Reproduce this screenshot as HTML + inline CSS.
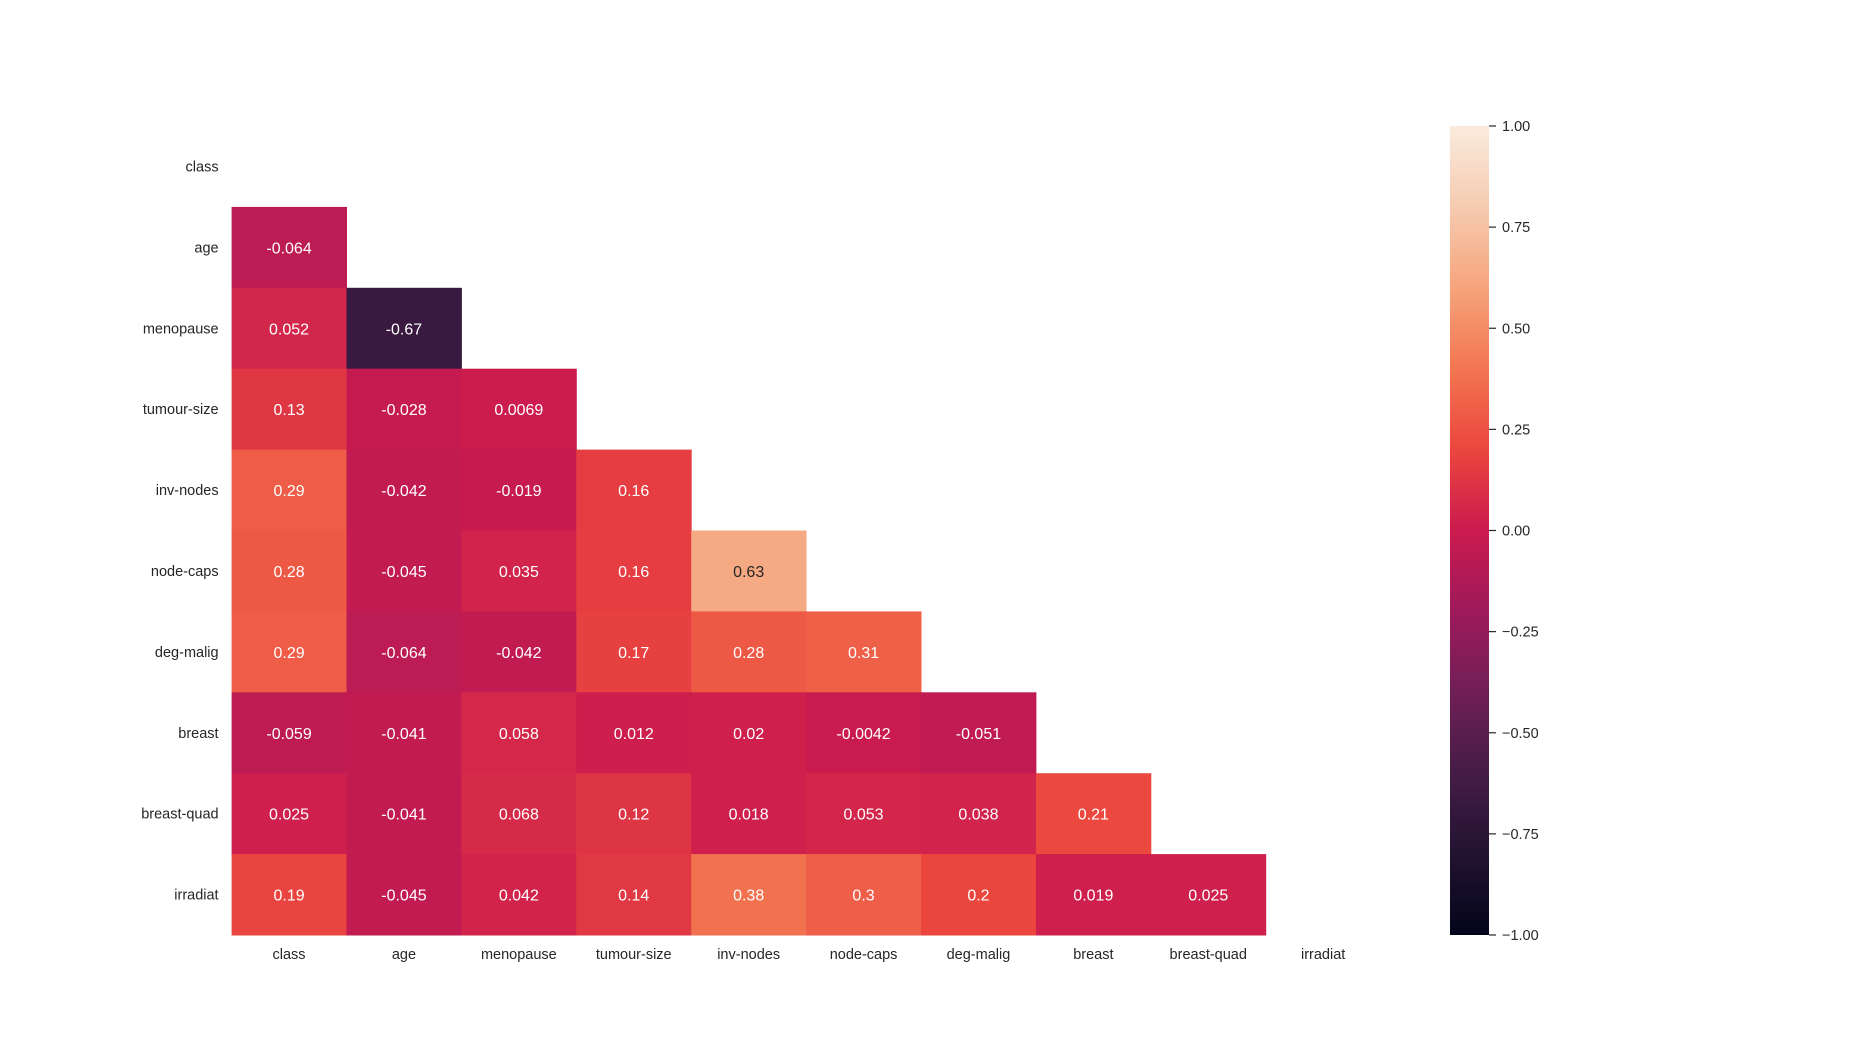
<!DOCTYPE html>
<html><head><meta charset="utf-8">
<style>
body{margin:0;background:#fff;}
svg text{font-family:"Liberation Sans",sans-serif;}
</style></head>
<body>
<svg id="chart" width="1850" height="1050" xmlns="http://www.w3.org/2000/svg">
<defs>
<linearGradient id="cbgrad" x1="0" y1="1" x2="0" y2="0">
<stop offset="0" stop-color="#03051A"/><stop offset="0.1" stop-color="#221331"/><stop offset="0.2" stop-color="#451C47"/><stop offset="0.3" stop-color="#701F57"/><stop offset="0.4" stop-color="#9E1A5B"/><stop offset="0.5" stop-color="#CB1B4F"/><stop offset="0.6" stop-color="#EB463E"/><stop offset="0.7" stop-color="#F37651"/><stop offset="0.8" stop-color="#F6A47C"/><stop offset="0.9" stop-color="#F6CBB0"/><stop offset="1" stop-color="#FAEBDD"/>
</linearGradient>
</defs>
<g id="cells"></g><g id="labels"></g>
<rect x="1450" y="126" width="39" height="809" fill="url(#cbgrad)"/>
<g id="cbticks"></g>
</svg>
<script>
const categories=["class","age","menopause","tumour-size","inv-nodes","node-caps","deg-malig","breast","breast-quad","irradiat"];
const row1=[-0.064];
const row2=[0.052,-0.67];
const row3=[0.13,-0.028,0.0069];
const row4=[0.29,-0.042,-0.019,0.16];
const row5=[0.28,-0.045,0.035,0.16,0.63];
const row6=[0.29,-0.064,-0.042,0.17,0.28,0.31];
const row7=[-0.059,-0.041,0.058,0.012,0.02,-0.0042,-0.051];
const row8=[0.025,-0.041,0.068,0.12,0.018,0.053,0.038,0.21];
const row9=[0.19,-0.045,0.042,0.14,0.38,0.3,0.2,0.019,0.025];
const rows=[[],row1,row2,row3,row4,row5,row6,row7,row8,row9];
const cbTicks=[1,0.75,0.5,0.25,0,-0.25,-0.5,-0.75,-1];
const cbLabels=["1.00","0.75","0.50","0.25","0.00","\u22120.25","\u22120.50","\u22120.75","\u22121.00"];

const L=231.6,T=126,W=1149,H=809,n=categories.length,cw=W/n,ch=H/n;
const xs=i=>L+i*cw, ys=i=>T+i*ch;
const cbY=v=>126+(1-v)/2*809;
const stops=["#03051A","#221331","#451C47","#701F57","#9E1A5B","#CB1B4F","#EB463E","#F37651","#F6A47C","#F6CBB0","#FAEBDD"];
function hex(h){return [1,3,5].map(k=>parseInt(h.substr(k,2),16));}
function cmap(v){let t=(v+1)/2*10;let i=Math.min(9,Math.floor(t));let f=t-i;let a=hex(stops[i]),b=hex(stops[i+1]);
 return a.map((x,k)=>Math.round(x+(b[k]-x)*f));}
const NS="http://www.w3.org/2000/svg";
const gC=document.getElementById('cells'),gL=document.getElementById('labels'),gT=document.getElementById('cbticks');
function mk(tag,attrs,parent){const e=document.createElementNS(NS,tag);for(const k in attrs)e.setAttribute(k,attrs[k]);parent.appendChild(e);return e;}
rows.forEach((r,ri)=>{r.forEach((v,ci)=>{
 const c=cmap(v);
 const rect=mk('rect',{x:xs(ci),y:ys(ri),width:cw+0.5,height:ch+0.5,fill:`rgb(${c})`},gC);
 
 
 const t=mk('text',{x:xs(ci)+cw/2,y:ys(ri)+ch/2+6,'text-anchor':'middle','font-size':'16',fill:v>0.5?'#262626':'#fff'},gC);
 t.textContent=String(v);
 
 
});});
categories.forEach((c,i)=>{
 const t=mk('text',{x:L-13,y:ys(i)+ch/2+5,'text-anchor':'end','font-size':'14.5',fill:'#262626'},gL);
 t.textContent=c;
 
 
 const u=mk('text',{x:xs(i)+cw/2,y:T+H+24,'text-anchor':'middle','font-size':'14.5',fill:'#262626'},gL);
 u.textContent=c;
 
 
});
cbTicks.forEach((v,i)=>{
 const y=cbY(v);
 const l=mk('line',{x1:1489,x2:1496,y1:y,y2:y,stroke:'#262626','stroke-width':1.2},gT);
 
 
 const t=mk('text',{x:1502,y:y+5,'font-size':'14.5',fill:'#262626'},gT);
 t.textContent=cbLabels[i];
 
 
});
</script>
</body></html>
